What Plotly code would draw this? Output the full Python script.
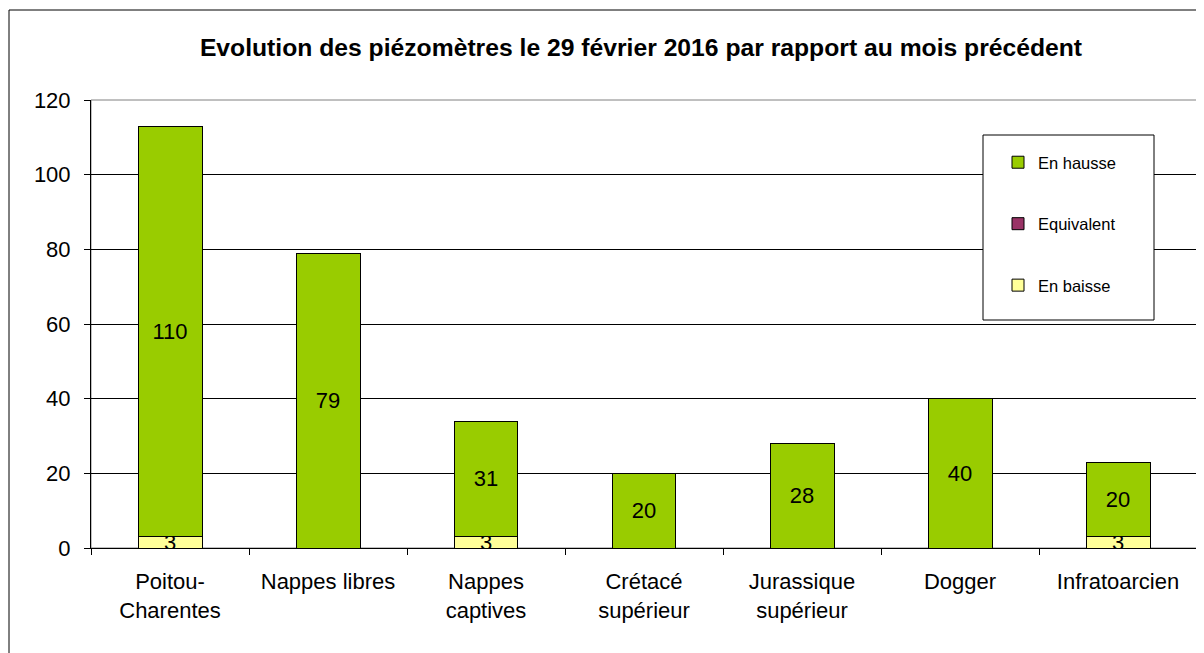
import plotly.graph_objects as go

categories = ["Poitou-<br>Charentes", "Nappes libres", "Nappes<br>captives", "Crétacé<br>supérieur",
              "Jurassique<br>supérieur", "Dogger", "Infratoarcien"]
en_baisse = [3, 0, 3, 0, 0, 0, 3]
equivalent = [0, 0, 0, 0, 0, 0, 0]
en_hausse = [110, 79, 31, 20, 28, 40, 20]

title = "Evolution des piézomètres le 29 février 2016 par rapport au mois précédent"
FONT = "Liberation Sans, Arial, sans-serif"

OFF = 8  # page body margin
W, H = 1204 - OFF, 653 - OFF
# reference pixel positions (screen), converted to figure coordinates
L, R, T, B = 91 - OFF, 1197 - OFF, 100 - OFF, 548 - OFF
pw, ph = R - L, B - T

def px(x):
    return (x - OFF - L) / pw

def py(y):
    return (B - (y - OFF)) / ph

def lbl(vals):
    return [str(v) if v else "" for v in vals]

fig = go.Figure()
series = [("En baisse", en_baisse, "#FFFF99", 3),
          ("Equivalent", equivalent, "#993366", 2),
          ("En hausse", en_hausse, "#99CC00", 1)]
for name, vals, col, rank in series:
    fig.add_trace(go.Bar(
        x=categories, y=vals, name=name, legendgroup=name, legendrank=rank,
        marker=dict(color=col, line=dict(color="#000000", width=1)),
        text=lbl(vals), textposition="inside", insidetextanchor="middle",
        textangle=0, constraintext="none",
        textfont=dict(family=FONT, size=22, color="black"),
        hoverinfo="x+y+name",
    ))

shapes = [
    # outer frame
    dict(type="rect", xref="paper", yref="paper", x0=px(9), x1=px(1215), y0=py(670), y1=py(10),
         line=dict(color="black", width=1), fillcolor="rgba(0,0,0,0)", layer="above"),
    # plot area border (gray)
    dict(type="rect", xref="paper", yref="paper", x0=0, x1=1, y0=0, y1=1,
         line=dict(color="#808080", width=1), fillcolor="rgba(0,0,0,0)", layer="below"),
    # legend box
    dict(type="rect", xref="paper", yref="paper", x0=px(983), x1=px(1154), y0=py(320), y1=py(135),
         line=dict(color="black", width=1), fillcolor="white", layer="above"),
]

fig.update_layout(
    width=W, height=H,
    margin=dict(l=L, r=W - R, t=T, b=H - B, pad=0),
    paper_bgcolor="white", plot_bgcolor="white",
    barmode="stack", bargap=0.595,
    font=dict(family=FONT, size=22, color="black"),
    title=dict(text="<b>" + title + "</b>", xref="container", x=(641 - OFF) / W, xanchor="center",
               y=1 - (47 - OFF) / H, yanchor="middle",
               font=dict(family=FONT, size=24.7, color="black")),
    showlegend=True,
    legend=dict(x=px(998), xanchor="left", y=py(145), yanchor="top",
                bgcolor="rgba(0,0,0,0)", borderwidth=0,
                traceorder="grouped", tracegroupgap=37,
                font=dict(family=FONT, size=16.5, color="black")),
    shapes=shapes,
)
fig.update_xaxes(showline=True, linecolor="black", linewidth=1, ticks="outside", tickson="boundaries",
                 ticklen=6, tickcolor="black", showgrid=False, ticklabelstandoff=14,
                 tickfont=dict(family=FONT, size=22, color="black"))
fig.update_yaxes(range=[0, 120], dtick=20, showline=True, linecolor="black", linewidth=1,
                 ticks="outside", ticklen=6, tickcolor="black", showgrid=True, gridcolor="black",
                 gridwidth=1, zeroline=False, ticklabelstandoff=9,
                 tickfont=dict(family=FONT, size=22, color="black"))

fig.write_html("out.html")
